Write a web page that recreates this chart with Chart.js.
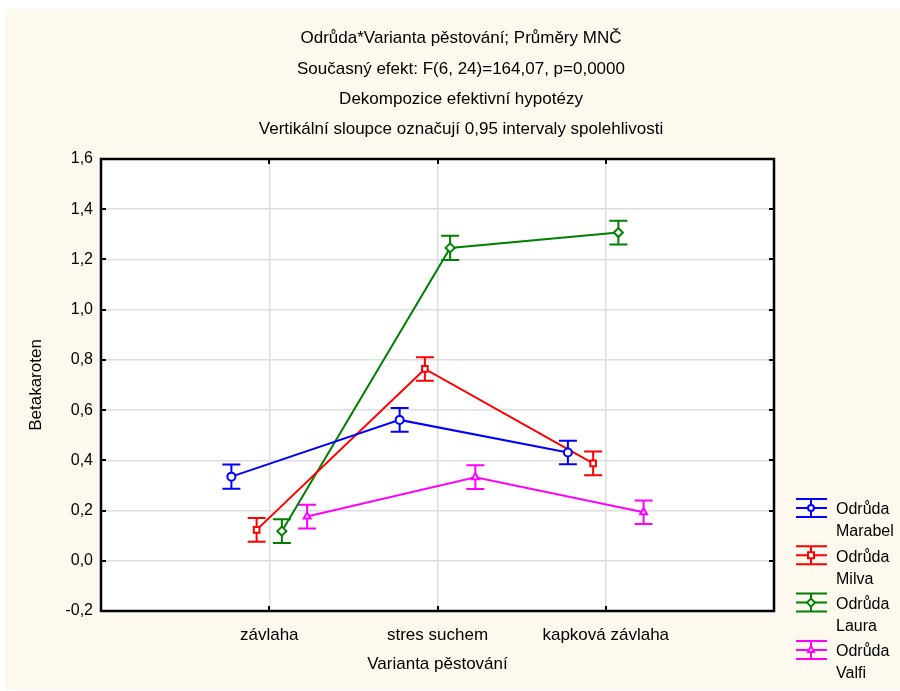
<!DOCTYPE html>
<html>
<head>
<meta charset="utf-8">
<script src="https://cdn.jsdelivr.net/npm/chart.js@4"></script>
<style>
  body { margin: 0; background: #fff; }
  canvas { display: block; }
</style>
</head>
<body>
<canvas id="myChart" width="900" height="691"></canvas>
<script>
// 데이터
var categories = ['závlaha', 'stres suchem', 'kapková závlaha'];
var seriesNames = ['Odrůda Marabel', 'Odrůda Milva', 'Odrůda Laura', 'Odrůda Valfi'];
var marabel = [0.335, 0.561, 0.431];
var milva = [0.123, 0.764, 0.388];
var laura = [0.118, 1.246, 1.307];
var valfi = [0.176, 0.333, 0.193];
var marabelCI = [0.048, 0.047, 0.047];
var milvaCI = [0.047, 0.047, 0.047];
var lauraCI = [0.047, 0.048, 0.047];
var valfiCI = [0.047, 0.047, 0.047];
var yMin = -0.2, yMax = 1.6, yStep = 0.2;
var titleLines = [
    'Odrůda*Varianta pěstování; Průměry MNČ',
    'Současný efekt: F(6, 24)=164,07, p=0,0000',
    'Dekompozice efektivní hypotézy',
    'Vertikální sloupce označují 0,95 intervaly spolehlivosti'
];
var xTitle = 'Varianta pěstování';
var yTitle = 'Betakaroten';

var FONT = '"Liberation Sans", Arial, sans-serif';
var colors = ['#0000ff', '#ff0000', '#008000', '#ff00ff'];
var styles = ['circle', 'rect', 'rectRot', 'triangle'];
var offsets = [-0.225, -0.075, 0.075, 0.225]; // 시리즈별 가로 위치 이동
var allValues = [marabel, milva, laura, valfi];
var allCI = [marabelCI, milvaCI, lauraCI, valfiCI];

var datasets = allValues.map(function (vals, k) {
    return {
        label: seriesNames[k],
        data: vals.map(function (v, i) { return { x: i + 1 + offsets[k], y: v }; }),
        ci: allCI[k],
        borderColor: colors[k],
        borderWidth: 2,
        pointStyle: styles[k],
        pointRadius: k === 2 ? 4.5 : 4,
        pointBorderWidth: 2,
        pointBorderColor: colors[k],
        pointBackgroundColor: '#ffffff',
        tension: 0,
        fill: false
    };
});

function drawMarker(ctx, style, x, y, r, color) {
    ctx.save();
    ctx.strokeStyle = color;
    ctx.fillStyle = '#ffffff';
    ctx.lineWidth = 2;
    ctx.beginPath();
    if (style === 'circle') {
        ctx.arc(x, y, r, 0, Math.PI * 2);
    } else if (style === 'rect') {
        ctx.rect(x - r, y - r, 2 * r, 2 * r);
    } else if (style === 'rectRot') {
        ctx.moveTo(x, y - r - 1); ctx.lineTo(x + r + 1, y); ctx.lineTo(x, y + r + 1); ctx.lineTo(x - r - 1, y); ctx.closePath();
    } else {
        ctx.moveTo(x, y - r - 1); ctx.lineTo(x + r, y + r - 1); ctx.lineTo(x - r, y + r - 1); ctx.closePath();
    }
    ctx.fill();
    ctx.stroke();
    ctx.restore();
}

var decorPlugin = {
    id: 'decor',
    beforeDraw: function (chart) {
        var ctx = chart.ctx, a = chart.chartArea;
        ctx.save();
        ctx.fillStyle = '#ffffff';
        ctx.fillRect(0, 0, chart.width, chart.height);
        ctx.fillStyle = '#fdf9ef';
        ctx.fillRect(5, 9, chart.width - 5, 681);
        ctx.fillStyle = '#ffffff';
        ctx.fillRect(a.left, a.top, a.right - a.left, a.bottom - a.top);
        // 제목
        ctx.fillStyle = '#000';
        ctx.font = '17px ' + FONT;
        ctx.textAlign = 'center';
        ctx.textBaseline = 'middle';
        var ty = [38, 69, 99, 129];
        titleLines.forEach(function (t, i) { ctx.fillText(t, 461, ty[i]); });
        ctx.restore();
    },
    beforeDatasetsDraw: function (chart) {
        var ctx = chart.ctx, a = chart.chartArea;
        var xs = chart.scales.x, ys = chart.scales.y;
        ctx.save();
        // 안쪽 눈금
        ctx.strokeStyle = '#000';
        ctx.lineWidth = 2;
        ctx.beginPath();
        ys.ticks.forEach(function (t) {
            var py = Math.round(ys.getPixelForValue(t.value));
            ctx.moveTo(a.left, py); ctx.lineTo(a.left + 5, py);
            ctx.moveTo(a.right, py); ctx.lineTo(a.right - 5, py);
        });
        [1, 2, 3].forEach(function (v) {
            var px = Math.round(xs.getPixelForValue(v));
            ctx.moveTo(px, a.top); ctx.lineTo(px, a.top + 5);
            ctx.moveTo(px, a.bottom); ctx.lineTo(px, a.bottom - 5);
        });
        ctx.stroke();
        // 테두리
        ctx.lineWidth = 2.5;
        ctx.strokeRect(a.left, a.top, a.right - a.left, a.bottom - a.top);
        // 오차 막대
        chart.data.datasets.forEach(function (ds) {
            ctx.strokeStyle = ds.borderColor;
            ctx.lineWidth = 2;
            ctx.beginPath();
            ds.data.forEach(function (p, i) {
                var px = xs.getPixelForValue(p.x);
                var yt = ys.getPixelForValue(p.y + ds.ci[i]);
                var yb = ys.getPixelForValue(p.y - ds.ci[i]);
                ctx.moveTo(px, yt); ctx.lineTo(px, yb);
                ctx.moveTo(px - 9, yt); ctx.lineTo(px + 9, yt);
                ctx.moveTo(px - 9, yb); ctx.lineTo(px + 9, yb);
            });
            ctx.stroke();
        });
        ctx.restore();
    },
    afterDraw: function (chart) {
        // 범례
        var ctx = chart.ctx;
        ctx.save();
        ctx.font = '16px ' + FONT;
        ctx.textAlign = 'left';
        ctx.textBaseline = 'middle';
        chart.data.datasets.forEach(function (ds, k) {
            var y0 = 508 + k * 47.3;
            ctx.strokeStyle = ds.borderColor;
            ctx.lineWidth = 2;
            ctx.beginPath();
            ctx.moveTo(796, y0 - 9); ctx.lineTo(827, y0 - 9);
            ctx.moveTo(796, y0); ctx.lineTo(827, y0);
            ctx.moveTo(796, y0 + 9); ctx.lineTo(827, y0 + 9);
            ctx.moveTo(811, y0 - 9); ctx.lineTo(811, y0 + 9);
            ctx.stroke();
            drawMarker(ctx, styles[k], 811, y0, 3, ds.borderColor);
            var words = ds.label.split(' ');
            ctx.fillStyle = '#000';
            ctx.fillText(words[0], 836, y0 + 2);
            ctx.fillText(words.slice(1).join(' '), 836, y0 + 24);
        });
        ctx.restore();
    }
};

var ctx = document.getElementById('myChart').getContext('2d');
var myChart = new Chart(ctx, {
    type: 'line',
    data: { datasets: datasets },
    options: {
        responsive: false,
        animation: false,
        layout: { padding: { left: 20, right: 126, top: 159, bottom: 10 } },
        scales: {
            x: {
                type: 'linear',
                min: 0,
                max: 4,
                afterBuildTicks: function (scale) {
                    scale.ticks = [0, 1, 2, 3, 4].map(function (v) { return { value: v }; });
                },
                afterFit: function (scale) { scale.height = 70; },
                ticks: {
                    autoSkip: false,
                    maxRotation: 0,
                    padding: 14,
                    color: '#000',
                    font: { family: FONT, size: 17 },
                    callback: function (value) { return categories[value - 1] || ''; }
                },
                grid: {
                    drawTicks: false,
                    lineWidth: 1.5,
                    color: function (c) {
                        return (c.tick && c.tick.value > 0 && c.tick.value < 4) ? '#dedede' : 'rgba(0,0,0,0)';
                    }
                },
                border: { display: false },
                title: {
                    display: true,
                    text: xTitle,
                    color: '#000',
                    font: { family: FONT, size: 17 },
                    padding: { top: 0, bottom: 6 }
                }
            },
            y: {
                min: yMin,
                max: yMax,
                afterFit: function (scale) { scale.width = 81; },
                ticks: {
                    stepSize: yStep,
                    padding: 8,
                    color: '#000',
                    font: { family: FONT, size: 16 },
                    callback: function (value) { return value.toFixed(1).replace('.', ','); }
                },
                grid: {
                    drawTicks: false,
                    lineWidth: 1.5,
                    color: function (c) {
                        return (c.tick && c.tick.value > yMin + 1e-6 && c.tick.value < yMax - 1e-6) ? '#dedede' : 'rgba(0,0,0,0)';
                    }
                },
                border: { display: false },
                title: {
                    display: true,
                    text: yTitle,
                    color: '#000',
                    font: { family: FONT, size: 17 },
                    padding: { top: 6, bottom: 0 }
                }
            }
        },
        plugins: {
            legend: { display: false },
            tooltip: { enabled: false }
        }
    },
    plugins: [decorPlugin]
});
</script>
</body>
</html>
